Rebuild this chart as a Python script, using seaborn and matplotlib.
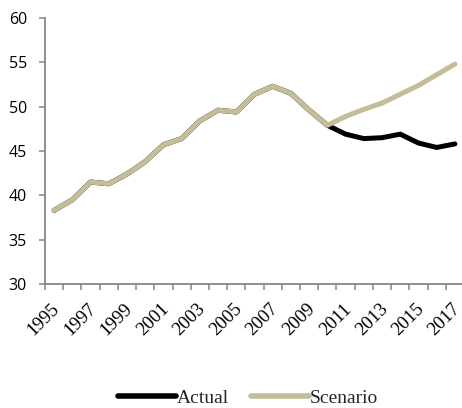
import matplotlib
matplotlib.use("Agg")
import matplotlib.pyplot as plt
import matplotlib.transforms as mtransforms
import seaborn as sns
import pandas as pd

years = list(range(1995, 2018))
actual = [38.3, 39.5, 41.5, 41.3, 42.4, 43.8, 45.7, 46.4, 48.4, 49.6, 49.4,
          51.4, 52.3, 51.5, 49.6, 47.9, 46.9, 46.4, 46.5, 46.9, 45.9, 45.4, 45.8]
scenario = [38.3, 39.5, 41.5, 41.3, 42.4, 43.8, 45.7, 46.4, 48.4, 49.6, 49.4,
            51.4, 52.3, 51.5, 49.6, 47.9, 48.9, 49.7, 50.4, 51.4, 52.4, 53.6, 54.8]
series_names = ["Actual", "Scenario"]
colors = {"Actual": "#000000", "Scenario": "#c4bd97"}

df = pd.DataFrame({
    "idx": list(range(len(years))) * 2,
    "value": actual + scenario,
    "series": [series_names[0]] * len(years) + [series_names[1]] * len(years),
})

sns.set_theme(style="white")
fig = plt.figure(figsize=(4.62, 4.08), dpi=100)
ax = fig.add_axes([45 / 462, 1 - 284 / 408, 419 / 462, 266 / 408])

sns.lineplot(data=df, x="idx", y="value", hue="series", hue_order=series_names,
             palette=colors, linewidth=3.6, ax=ax, legend=False)

ax.set_xlim(-0.5, len(years) - 0.5)
ax.set_ylim(30, 60)
ax.set_yticks(range(30, 61, 5))
ax.set_xlabel("")
ax.set_ylabel("")

spine_c = "#868686"
for s in ["top", "right"]:
    ax.spines[s].set_visible(False)
for s in ["left", "bottom"]:
    ax.spines[s].set_color(spine_c)
    ax.spines[s].set_linewidth(1.3)

# boundary ticks on x
ax.set_xticks([i - 0.5 for i in range(len(years) + 1)])
ax.set_xticklabels([])
ax.tick_params(axis="x", which="major", length=4, width=1.1, color=spine_c, direction="out", bottom=True)
ax.set_xticks(list(range(0, len(years), 2)), minor=True)
ax.set_xticklabels([str(y) for y in years[::2]], minor=True, rotation=45,
                   ha="right", va="top", rotation_mode="anchor",
                   fontfamily="Liberation Serif", fontsize=13.5, color="#000000")
ax.tick_params(axis="x", which="minor", length=0, pad=12, bottom=True)
offset = mtransforms.ScaledTranslation(-3 / 100, 0, fig.dpi_scale_trans)
for lab in ax.get_xticklabels(minor=True):
    lab.set_transform(lab.get_transform() + offset)

ax.tick_params(axis="y", length=4, width=1.1, color=spine_c, direction="out", left=True, pad=9)
for lab in ax.get_yticklabels():
    lab.set_fontfamily("Open Sans")
    lab.set_fontsize(11.5)
    lab.set_color("#000000")

handles = [plt.Line2D([], [], color=colors[n], linewidth=4) for n in series_names]
fig.legend(handles, series_names, loc="center", bbox_to_anchor=(0.537, 1 - 398 / 408),
           ncol=2, frameon=False, handlelength=3.0, handletextpad=0.05, columnspacing=1.1,
           prop={"family": "Liberation Serif", "size": 14})

fig.savefig("out.png", dpi=100)
